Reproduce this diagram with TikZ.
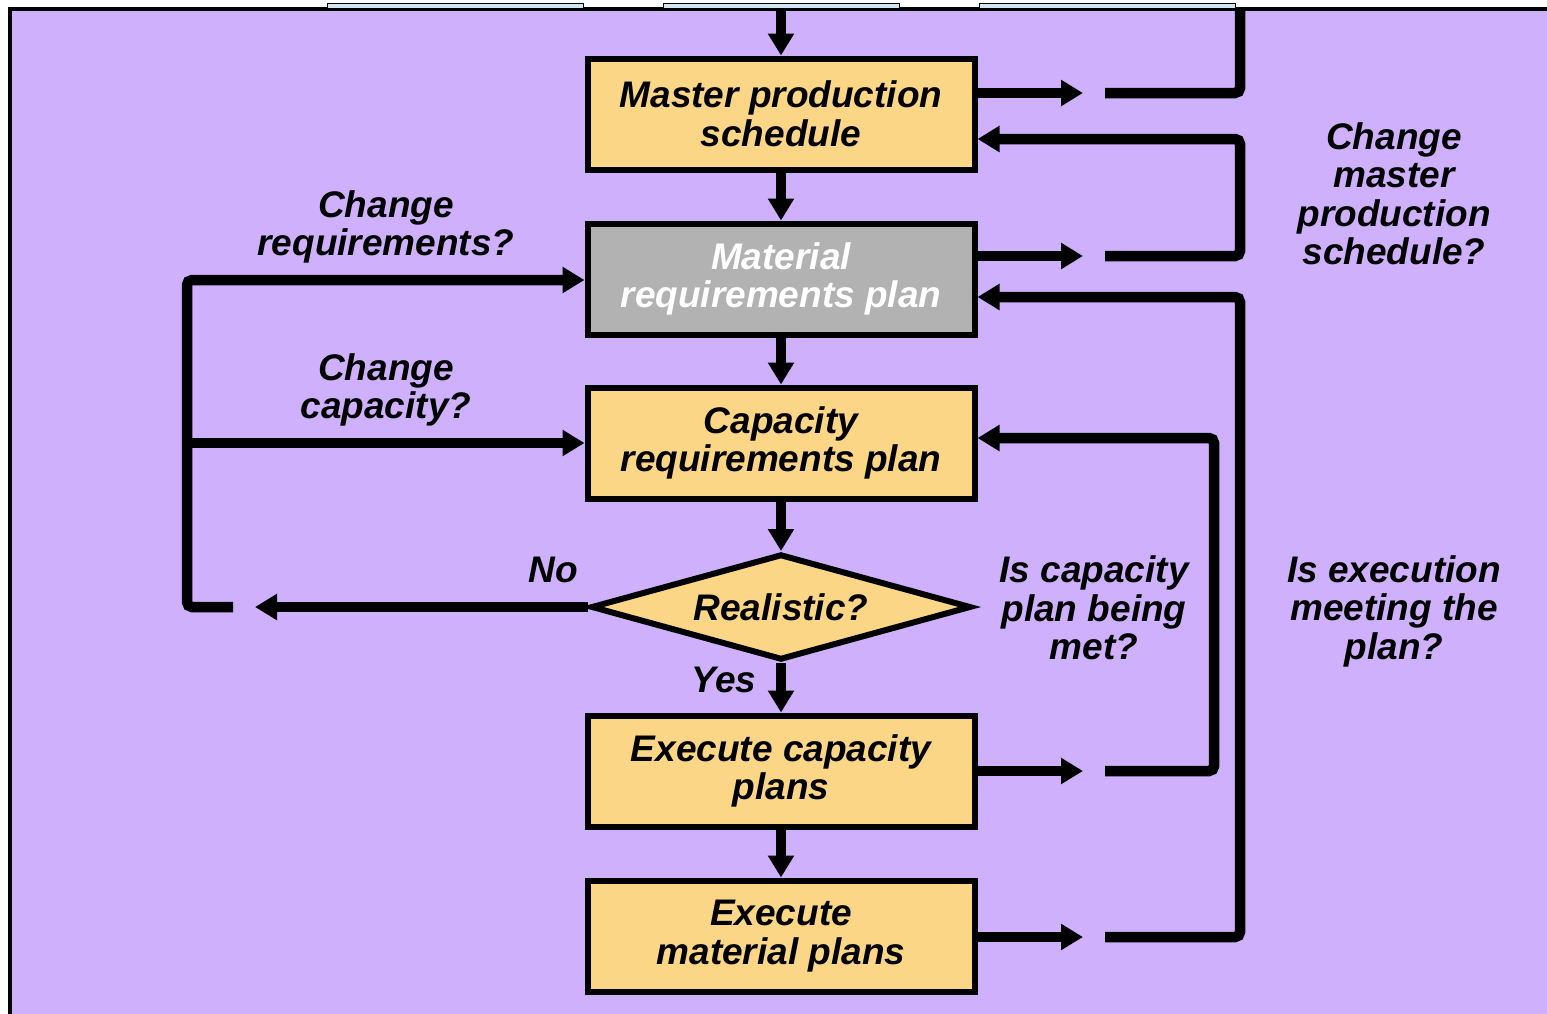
\documentclass[tikz,border=0pt]{standalone}
\usepackage{fontspec}
\setmainfont{Liberation Sans}
\usetikzlibrary{arrows.meta,shapes.geometric}
\definecolor{lav}{RGB}{207,176,253}
\definecolor{sand}{RGB}{251,214,134}
\definecolor{mrpgray}{RGB}{178,178,178}
\definecolor{tabblue}{RGB}{205,232,242}

\begin{document}
\begin{tikzpicture}[x=1pt,y=-1pt,
  txt/.style={font=\fontsize{37}{38.5}\selectfont\bfseries\itshape, align=center, inner sep=0pt},
  stepbox/.style={txt, draw=black, line width=6pt, fill=sand,
    minimum width=387pt, minimum height=111pt},
  decision/.style={txt, diamond, aspect=3.7, draw=black, line width=6pt, fill=sand,
    minimum width=380pt, minimum height=106pt},
  arrowline/.style={line width=10.5pt, -{Triangle[length=22pt,width=25pt]}},
  feedback/.style={line width=10.5pt, rounded corners=5pt},
  feedbackarrow/.style={feedback, -{Triangle[length=22pt,width=25pt]}},
]
% page and slide frame
\useasboundingbox (0,0) rectangle (1547,1013);
\fill[white] (0,0) rectangle (1547,1013);
\fill[lav] (10,9) rectangle (1552,1018);
\draw[line width=3.5pt] (10,1018) -- (10,9) -- (1552,9);
\foreach \l/\r in {327/583, 663/899, 979/1235}
  \draw[fill=tabblue, line width=1pt] (\l,3.5) rectangle (\r,8);

% process steps
\node[stepbox] (mps) at (781,114) {Master production\\schedule};
\node[stepbox, fill=mrpgray, text=white] (mrp) at (781,279) {Material\\requirements plan};
\node[stepbox] (crp) at (781,443) {Capacity\\requirements plan};
\node[decision] (real) at (781,607) {Realistic?};
\node[stepbox] (ecp) at (781,771) {Execute capacity\\plans};
\node[stepbox] (emp) at (781,936) {Execute\\material plans};

% questions and branch labels
\node[txt] (lreq) at (386,227) {Change\\requirements?};
\node[txt] (lcap) at (386,390) {Change\\capacity?};
\node[txt] (lno) at (553,570) {No};
\node[txt] (lyes) at (724,680) {Yes};
\node[txt] (lcpm) at (1094,608) {Is capacity\\plan being\\met?};
\node[txt] (lexe) at (1394,611) {Is execution\\meeting the\\plan?};
\node[txt] (lmps) at (1394,194) {Change\\master\\production\\schedule?};

% main flow
\coordinate (top) at (781,9);
\draw[arrowline] (top) -- (mps.north);
\draw[arrowline] (mps.south) -- (mrp.north);
\draw[arrowline] (mrp.south) -- (crp.north);
\draw[arrowline] (crp.south) -- (real.north);
\draw[arrowline] (real.south) -- (ecp.north);
\draw[arrowline] (ecp.south) -- (emp.north);

% loop back to the master schedule (leaving the frame)
\coordinate (a1) at (1083,93);
\coordinate (b1) at (1105,93);
\coordinate (t1) at (1240,9);
\draw[arrowline] (mps.east |- a1) -- (a1);
\draw[feedback] (b1) -- (t1 |- b1) -- (t1);

% MRP -> change master production schedule
\coordinate (a2) at (1083,256);
\coordinate (b2) at (1105,256);
\coordinate (r2) at (1240,139);
\draw[arrowline] (mrp.east |- a2) -- (a2);
\draw[feedbackarrow] (b2) -- (r2 |- b2) -- (r2) -- (mps.east |- r2);

% execution of material plans -> MRP
\coordinate (a3) at (1083,937);
\coordinate (b3) at (1105,937);
\coordinate (r3) at (1240,297);
\draw[arrowline] (emp.east |- a3) -- (a3);
\draw[feedbackarrow] (b3) -- (r3 |- b3) -- (r3) -- (mrp.east |- r3);

% execution of capacity plans -> CRP
\coordinate (a4) at (1083,771);
\coordinate (b4) at (1105,771);
\coordinate (r4) at (1214,438);
\draw[arrowline] (ecp.east |- a4) -- (a4);
\draw[feedbackarrow] (b4) -- (r4 |- b4) -- (r4) -- (crp.east |- r4);

% "No" branch back to MRP and CRP
\coordinate (nl) at (255,607);
\coordinate (nb) at (233,607);
\coordinate (lc) at (187,280);
\draw[arrowline] (real.west) -- (real.west -| nl);
\draw[feedbackarrow] (nb) -- (lc |- nb) -- (lc) -- (mrp.west |- lc);
\draw[arrowline] (lc |- crp.west) -- (crp.west);
\end{tikzpicture}
\end{document}
